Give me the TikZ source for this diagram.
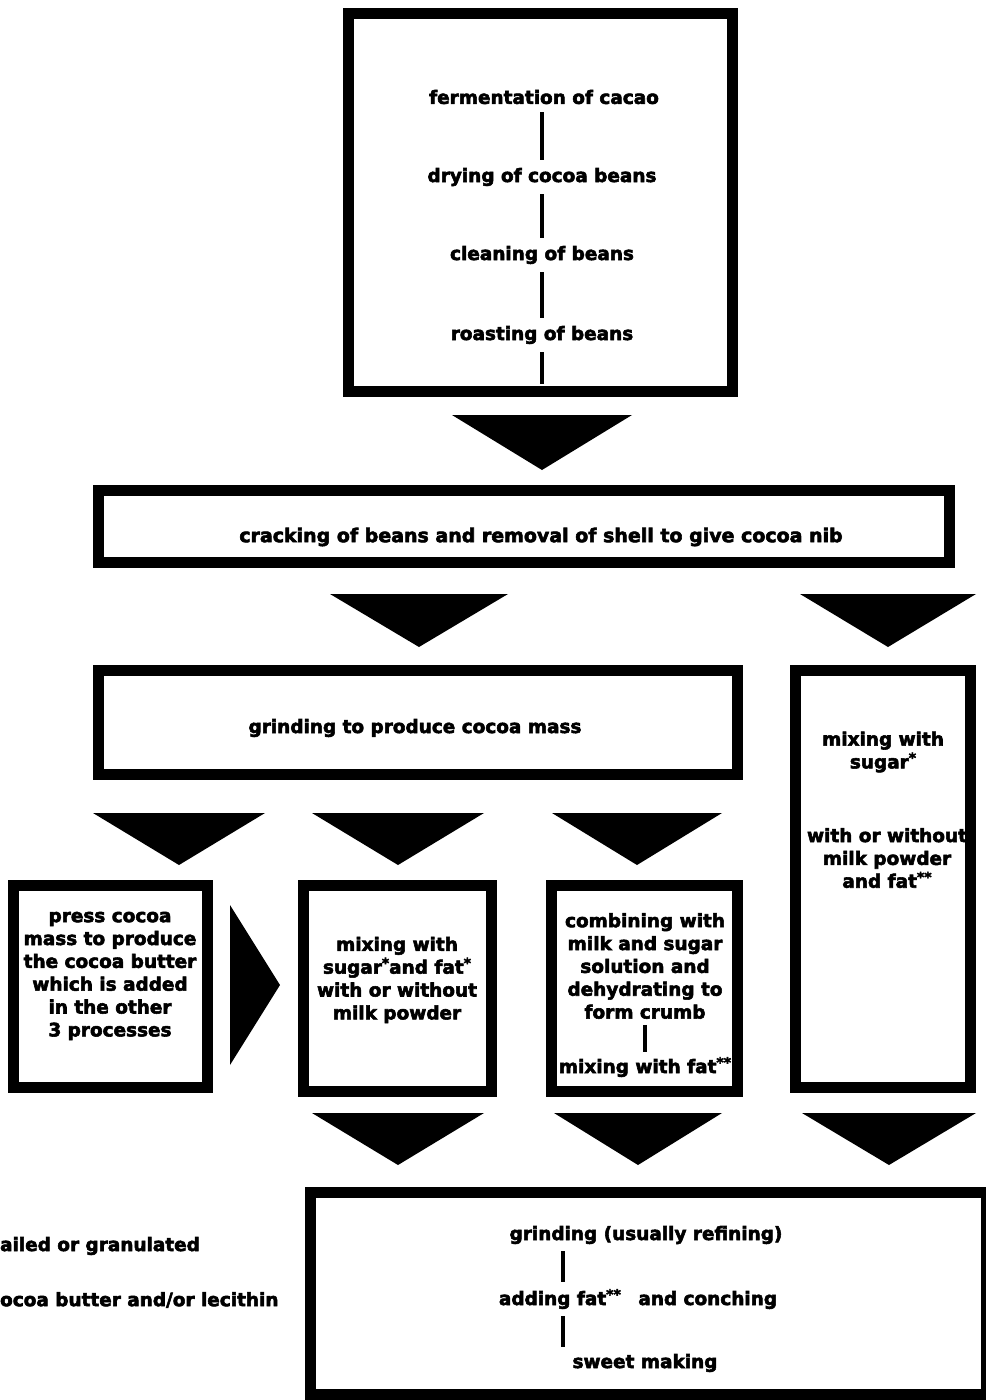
\documentclass[tikz,border=0pt]{standalone}
\usepackage{fontspec}
\setsansfont{DejaVu Sans}[BoldFeatures={FakeBold=3}]
\usepackage{tikz}
\usetikzlibrary{calc,positioning}
\def\downtri(#1,#2)(#3:#4){\fill ($(#1,#2)+(-#3,0)$) -- ($(#1,#2)+(#3,0)$) -- ($(#1,#2)+(0,#4)$) -- cycle;}
\def\starmark{\raisebox{0.55ex}{\footnotesize *}}
\tikzset{
	stage/.style={draw, line width=0.22cm, inner sep=0pt},
	txt/.style={font=\sffamily\bfseries\fontsize{10.5}{13}\selectfont, align=center, inner sep=1pt},
	bar/.style={line width=2.2pt}
}

\begin{document}
\begin{tikzpicture}[x=0.02cm, y=-0.02cm]
			%%%%% START %%%%%
			\useasboundingbox (0, 0) rectangle (986, 1400);
			
			% top box
			\node[txt] (ferm) at (544, 97) {fermentation of cacao};
			\node[txt] (dry) at (542, 177) {drying of cocoa beans};
			\node[txt] (clean) at (542, 255) {cleaning of beans};
			\node[txt] (roast) at (542, 335) {roasting of beans};
			\node[stage, minimum width=7.68cm, minimum height=7.56cm] (top) at (540.5, 202.5) {};
			\coordinate (topend) at (542, 384);
			\draw[bar] ([yshift=-0.12cm]ferm.south -| dry.south) -- ([yshift=0.12cm]dry.north);
			\draw[bar] ([yshift=-0.12cm]dry.south) -- ([yshift=0.12cm]clean.north);
			\draw[bar] ([yshift=-0.12cm]clean.south) -- ([yshift=0.12cm]roast.north);
			\draw[bar] ([yshift=-0.12cm]roast.south) -- (topend);
			
			\downtri(542, 415)(90:55)
			
			% cracking
			\node[txt, font=\sffamily\bfseries\fontsize{10.8}{13}\selectfont] (cracktxt) at (541, 537) {cracking of beans and removal of shell to give cocoa nib};
			\node[stage, minimum width=17.02cm, minimum height=1.44cm] (crack) at (524, 526.5) {};
			
			\downtri(419, 594)(89:53)
			\downtri(888, 594)(88:53)
			
			% grinding and the sugar column
			\node[txt] (grindtxt) at (415, 728) {grinding to produce cocoa mass};
			\node[stage, minimum width=12.78cm, minimum height=2.08cm] (grind) at (418, 722.5) {};
			
			\node[txt] (sugartxt) at (883, 752) {mixing with\\sugar\starmark};
			\node[txt] (milktxt) at (887, 858) {with or without\\milk powder\\and fat\starmark\starmark};
			\node[stage, minimum width=3.5cm, minimum height=8.34cm] (milkbox) at (883, 879) {};
			
			\downtri(179, 813)(86:52)
			\downtri(398, 813)(86:52)
			\downtri(637, 813)(85:52)
			
			% three processes
			\node[txt] (presstxt) at (110, 976) {press cocoa\\mass to produce\\the cocoa butter\\which is added\\in the other\\3 processes};
			\node[stage, minimum width=3.88cm, minimum height=4.04cm] (press) at (110.5, 986.5) {};
			
			\fill (230, 905) -- (280, 985) -- (230, 1065) -- cycle;
			
			\node[txt] (mixtxt) at (397, 980) {mixing with\\sugar\starmark and fat\starmark\\with or without\\milk powder};
			\node[stage, minimum width=3.76cm, minimum height=4.12cm] (mix) at (397.5, 988.5) {};
			
			\node[txt] (crumbtxt) at (645, 966) {combining with\\milk and sugar\\solution and\\dehydrating to\\form crumb};
			\node[txt] (fattxt) at (645, 1067) {mixing with fat\starmark\starmark};
			\node[stage, minimum width=3.72cm, minimum height=4.12cm] (crumb) at (644.5, 988.5) {};
			\draw[bar] ([yshift=-0.08cm]crumbtxt.south) -- ([yshift=0.06cm]fattxt.north);
			
			\downtri(398, 1113)(86:52)
			\downtri(638, 1113)(84:52)
			\downtri(889, 1113)(87:52)
			
			% final box
			\node[txt] (refine) at (646, 1235) {grinding (usually refining)};
			\node[txt] (conch) at (638, 1299) {adding fat\starmark\starmark\hspace{0.6em} and conching};
			\node[txt] (sweet) at (645, 1363) {sweet making};
			\node[stage, minimum width=13.52cm, minimum height=4.04cm] (final) at (648.5, 1293.5) {};
			\coordinate (fb) at (563, 1300);
			\draw[bar] ([yshift=-0.1cm]refine.south -| fb) -- ([yshift=0.1cm]conch.north -| fb);
			\draw[bar] ([yshift=-0.1cm]conch.south -| fb) -- ([yshift=0.1cm]sweet.north -| fb);
			
			% footnotes
			\node[txt, anchor=west] (note1) at (-2, 1246) {ailed or granulated};
			\node[txt, anchor=west] (note2) at (-2, 1300) {ocoa butter and/or lecithin};
			
			%%%%% END %%%%%
		\end{tikzpicture}
\end{document}
